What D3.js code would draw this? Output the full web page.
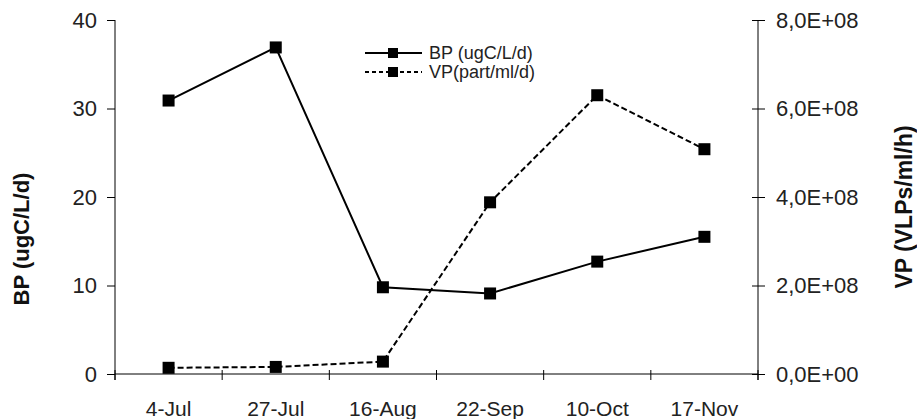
<!DOCTYPE html>
<html>
<head>
<meta charset="utf-8">
<script src="https://cdn.jsdelivr.net/npm/d3@7"></script>
<style>
  body { margin: 0; background: #fff; }
  svg { display: block; font-family: "Liberation Sans", Arial, sans-serif; }
</style>
</head>
<body>
<div id="chart"></div>
<script>
// sampling dates and the two series
var dates = ["4-Jul", "27-Jul", "16-Aug", "22-Sep", "10-Oct", "17-Nov"];
var bpValues = [30.9, 36.9, 9.8, 9.1, 12.7, 15.5];          // ugC/L/d
var vpValues = [1.4e7, 1.6e7, 2.8e7, 3.88e8, 6.3e8, 5.08e8]; // part/ml/d
var bpTicks = [0, 10, 20, 30, 40];
var vpTicks = [0, 2e8, 4e8, 6e8, 8e8];

var width = 917, height = 419;
// note: "top" is taken by window.top, so plot edges get their own names
var plotLeft = 115, plotRight = 758, plotTop = 20, plotBottom = 374;

var svg = d3.select("#chart").append("svg")
    .attr("width", width)
    .attr("height", height);

var x = d3.scaleBand().domain(dates).range([plotLeft, plotRight]).padding(0);
var yL = d3.scaleLinear().domain([0, 40]).range([plotBottom, plotTop]);
var yR = d3.scaleLinear().domain([0, 8e8]).range([plotBottom, plotTop]);

// excel style "8,0E+08"
function sci(d) {
    var e = d === 0 ? 0 : Math.floor(Math.log10(d));
    var m = d / Math.pow(10, e);
    return m.toFixed(1).replace(".", ",") + "E+" + (e < 10 ? "0" : "") + e;
}

// left axis
var axL = svg.append("g")
    .attr("transform", "translate(" + plotLeft + ",0)")
    .call(d3.axisLeft(yL).tickValues(bpTicks).tickSize(8).tickPadding(10).tickSizeOuter(0));
axL.select(".domain").remove();
axL.append("line").attr("x1", 0).attr("x2", 0).attr("y1", plotTop).attr("y2", plotBottom + 6)
    .attr("stroke", "#000");

// right axis, cross ticks
var axR = svg.append("g")
    .attr("transform", "translate(" + plotRight + ",0)")
    .call(d3.axisRight(yR).tickValues(vpTicks).tickFormat(sci).tickSize(7).tickPadding(11).tickSizeOuter(0));
axR.select(".domain").remove();
axR.selectAll(".tick line").attr("x1", -6);
axR.append("line").attr("x1", 0).attr("x2", 0).attr("y1", plotTop).attr("y2", plotBottom + 6)
    .attr("stroke", "#000");

[axL, axR].forEach(function(ax) {
    ax.attr("font-family", null).attr("font-size", null);
    ax.selectAll(".tick line").attr("stroke", "#000");
    ax.selectAll(".tick text").attr("fill", "#222").style("font-size", "22px");
});

// x axis: line + cross ticks at category boundaries
var bounds = dates.map(function(d) { return x(d); }).concat([x(dates[dates.length - 1]) + x.bandwidth()]);
var axX = svg.append("g");
axX.append("line").attr("x1", plotLeft).attr("x2", plotRight).attr("y1", plotBottom).attr("y2", plotBottom)
    .attr("stroke", "#000");
axX.selectAll(".xt").data(bounds).enter().append("line")
    .attr("x1", function(d) { return d; }).attr("x2", function(d) { return d; })
    .attr("y1", plotBottom - 4).attr("y2", plotBottom + 6)
    .attr("stroke", "#000");
axX.selectAll(".xl").data(dates).enter().append("text")
    .attr("x", function(d) { return x(d) + x.bandwidth() / 2; })
    .attr("y", 416)
    .attr("text-anchor", "middle")
    .attr("fill", "#222")
    .style("font-size", "21px")
    .text(function(d) { return d; });

// axis titles
svg.append("text")
    .attr("transform", "translate(29,239) rotate(-90)")
    .attr("text-anchor", "middle")
    .style("font-size", "22px").style("font-weight", "bold")
    .attr("fill", "#111")
    .text("BP (ugC/L/d)");
svg.append("text")
    .attr("transform", "translate(912,207) rotate(-90)")
    .attr("text-anchor", "middle")
    .style("font-size", "23px").style("font-weight", "bold")
    .attr("fill", "#111")
    .text("VP (VLPs/ml/h)");

// series
var cx = function(i) { return x(dates[i]) + x.bandwidth() / 2; };

var vpLine = d3.line().x(function(d, i) { return cx(i); }).y(function(d) { return yR(d); });
svg.append("path").datum(vpValues)
    .attr("d", vpLine)
    .attr("fill", "none").attr("stroke", "#000").attr("stroke-width", 2)
    .attr("stroke-dasharray", "6,3");

var bpLine = d3.line().x(function(d, i) { return cx(i); }).y(function(d) { return yL(d); });
svg.append("path").datum(bpValues)
    .attr("d", bpLine)
    .attr("fill", "none").attr("stroke", "#000").attr("stroke-width", 2);

var ms = 12;
svg.selectAll(".vpm").data(vpValues).enter().append("rect")
    .attr("x", function(d, i) { return cx(i) - ms / 2; })
    .attr("y", function(d) { return yR(d) - ms / 2; })
    .attr("width", ms).attr("height", ms).attr("fill", "#000");
svg.selectAll(".bpm").data(bpValues).enter().append("rect")
    .attr("x", function(d, i) { return cx(i) - ms / 2; })
    .attr("y", function(d) { return yL(d) - ms / 2; })
    .attr("width", ms).attr("height", ms).attr("fill", "#000");

// legend
var legend = [
    { label: "BP (ugC/L/d)", dash: null, y: 53 },
    { label: "VP(part/ml/d)", dash: "4,3", y: 72 }
];
var lg = svg.selectAll(".leg").data(legend).enter().append("g");
lg.append("line")
    .attr("x1", 365).attr("x2", 422)
    .attr("y1", function(d) { return d.y; }).attr("y2", function(d) { return d.y; })
    .attr("stroke", "#000").attr("stroke-width", 2)
    .attr("stroke-dasharray", function(d) { return d.dash; });
lg.append("rect")
    .attr("x", 388).attr("y", function(d) { return d.y - 5; })
    .attr("width", 10).attr("height", 10).attr("fill", "#000");
lg.append("text")
    .attr("x", 429).attr("y", function(d) { return d.y + 6; })
    .attr("fill", "#222")
    .style("font-size", "18px")
    .text(function(d) { return d.label; });
</script>
</body>
</html>
